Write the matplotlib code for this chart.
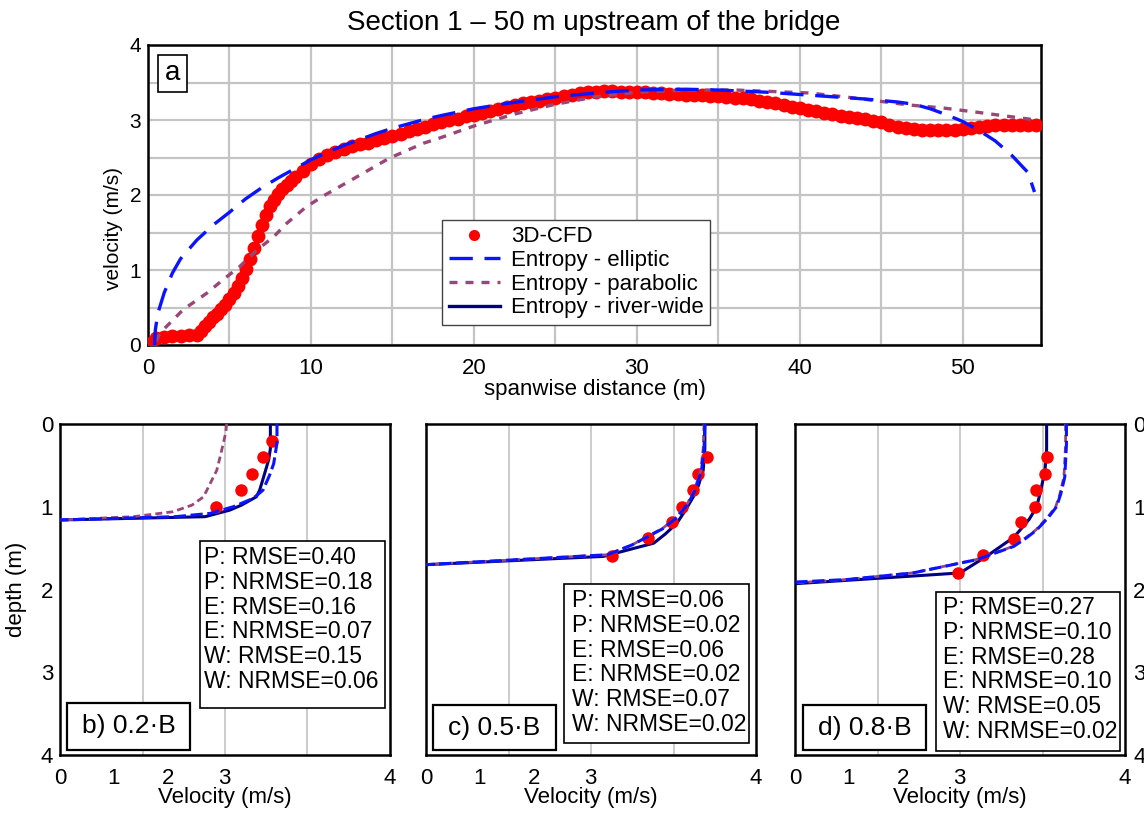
import numpy as np
import matplotlib
matplotlib.use('Agg')
import matplotlib.pyplot as plt
from matplotlib.patches import Rectangle
from matplotlib.ticker import FixedLocator, MultipleLocator

plt.rcParams['font.family'] = ['Liberation Sans', 'DejaVu Sans']

W, H = 1144, 814

# ---- panel a: velocidad a lo ancho de la seccion ----
cfd_x = [0.0, 0.2, 0.5, 1.0, 1.5, 2.0, 2.5, 3.0, 3.25, 3.5, 3.75, 4.0, 4.25, 4.5, 4.75,
         5.0, 5.25, 5.5, 5.75, 6.0, 6.25, 6.5, 6.75, 7.0, 7.25, 7.5, 7.75, 8.0, 8.25,
         8.5, 8.75, 9.0, 9.5, 10.0, 10.5, 11.0, 11.5, 12.0, 12.5, 13.0, 13.5, 14.0,
         14.5, 15.0, 15.5, 16.0, 16.5, 17.0, 17.5, 18.0, 18.5, 19.0, 19.5, 20.0, 20.5,
         21.0, 21.5, 22.0, 22.5, 23.0, 23.5, 24.0, 24.5, 25.0, 25.5, 26.0, 26.5, 27.0,
         27.5, 28.0, 28.5, 29.0, 29.5, 30.0, 30.5, 31.0, 31.5, 32.0, 32.5, 33.0, 33.5,
         34.0, 34.5, 35.0, 35.5, 36.0, 36.5, 37.0, 37.5, 38.0, 38.5, 39.0, 39.5, 40.0,
         40.5, 41.0, 41.5, 42.0, 42.5, 43.0, 43.5, 44.0, 44.5, 45.0, 45.5, 46.0, 46.5,
         47.0, 47.5, 48.0, 48.5, 49.0, 49.5, 50.0, 50.5, 51.0, 51.5, 52.0, 52.5, 53.0,
         53.5, 54.0, 54.5]
cfd_v = [0.00, 0.03, 0.09, 0.11, 0.12, 0.12, 0.13, 0.14, 0.19, 0.25, 0.31, 0.37, 0.42, 0.48, 0.54,
         0.61, 0.70, 0.79, 0.90, 1.02, 1.15, 1.30, 1.45, 1.60, 1.73, 1.85, 1.94, 2.02, 2.08,
         2.14, 2.19, 2.24, 2.32, 2.42, 2.48, 2.53, 2.57, 2.62, 2.65, 2.68, 2.70, 2.73,
         2.76, 2.79, 2.82, 2.85, 2.88, 2.91, 2.95, 2.98, 3.00, 3.02, 3.05, 3.07, 3.10,
         3.12, 3.15, 3.17, 3.20, 3.22, 3.24, 3.26, 3.28, 3.30, 3.32, 3.34, 3.36, 3.37,
         3.38, 3.39, 3.39, 3.38, 3.38, 3.37, 3.37, 3.36, 3.36, 3.35, 3.35, 3.34, 3.34,
         3.33, 3.32, 3.32, 3.31, 3.30, 3.29, 3.28, 3.26, 3.24, 3.22, 3.20, 3.18, 3.16,
         3.14, 3.12, 3.10, 3.08, 3.06, 3.04, 3.03, 3.01, 2.99, 2.97, 2.94, 2.91, 2.89,
         2.88, 2.87, 2.87, 2.87, 2.87, 2.87, 2.88, 2.89, 2.91, 2.92, 2.93, 2.93, 2.93,
         2.93, 2.94, 2.94]

ell_x = [0.40, 0.45, 0.6, 1.0, 1.5, 2.0, 3.0, 4.0, 5.0, 6.0, 7.0, 8.0, 9.0, 10.0, 11.0,
         12.0, 13.0, 14.0, 15.0, 16.0, 17.0, 18.0, 20.0, 22.0, 25.0, 28.0, 30.0, 33.0,
         35.0, 38.0, 40.0, 42.0, 44.0, 46.0, 47.0, 48.0, 49.0, 50.0, 51.0, 52.0, 53.0,
         54.0, 54.4]
ell_v = [0.00, 0.20, 0.42, 0.70, 0.96, 1.15, 1.40, 1.60, 1.77, 1.95, 2.10, 2.23, 2.35, 2.47, 2.57,
         2.66, 2.74, 2.82, 2.89, 2.95, 3.01, 3.06, 3.15, 3.22, 3.31, 3.37, 3.40, 3.41,
         3.40, 3.37, 3.34, 3.31, 3.28, 3.24, 3.21, 3.15, 3.07, 2.98, 2.86, 2.72, 2.53,
         2.30, 2.04]

par_x = [0.5, 0.74, 2.15, 3.6, 4.6, 5.6, 6.7, 7.7, 8.5, 9.7, 10.7, 12.8, 14.8, 16.9, 17.9,
         20.0, 22.5, 25.0, 27.5, 30.0, 33.0, 36.0, 40.6, 43.5, 46.7, 48.8, 51.0, 54.5]
par_v = [0.05, 0.16, 0.47, 0.69, 0.87, 1.04, 1.27, 1.44, 1.62, 1.84, 1.98, 2.24, 2.49, 2.69, 2.76,
         2.92, 3.08, 3.21, 3.31, 3.37, 3.40, 3.40, 3.36, 3.29, 3.20, 3.16, 3.10, 3.00]

riv_x = [0.4, 0.5, 3.0, 4.0, 5.0, 6.0, 7.0, 8.0, 9.0, 10.0, 12.0, 15.0, 18.0, 20.0, 25.0,
         28.0, 30.0, 35.0, 40.0, 45.0, 47.5, 50.0, 52.0, 54.6]
riv_v = [0.0, 0.10, 0.15, 0.35, 0.60, 1.00, 1.55, 2.00, 2.25, 2.42, 2.62, 2.80, 2.98, 3.07, 3.30,
         3.39, 3.37, 3.32, 3.16, 2.97, 2.87, 2.88, 2.93, 2.94]

# ---- perfiles verticales (velocidad, profundidad) ----
b_cfd_v = [2.57, 2.46, 2.33, 2.19, 1.89]
b_cfd_d = [0.2, 0.4, 0.6, 0.8, 1.0]
b_riv_v = [2.55, 2.55, 2.53, 2.48, 2.42, 2.38, 2.20, 2.06, 1.76, 0.0]
b_riv_d = [0.0, 0.30, 0.43, 0.60, 0.80, 0.88, 0.98, 1.04, 1.12, 1.16]
b_ell_v = [2.63, 2.63, 2.59, 2.54, 2.46, 2.34, 2.10, 1.82, 1.40, 0.0]
b_ell_d = [0.0, 0.23, 0.48, 0.62, 0.80, 0.90, 1.00, 1.08, 1.12, 1.16]
b_par_v = [2.02, 2.01, 1.98, 1.94, 1.90, 1.82, 1.74, 1.60, 1.37, 0.89, 0.0]
b_par_d = [0.0, 0.10, 0.23, 0.40, 0.56, 0.72, 0.88, 0.98, 1.06, 1.12, 1.16]

c_cfd_v = [3.40, 3.30, 3.24, 3.10, 2.98, 2.69, 2.25]
c_cfd_d = [0.4, 0.6, 0.8, 1.0, 1.19, 1.38, 1.60]
c_riv_v = [3.38, 3.38, 3.36, 3.30, 3.24, 3.14, 3.04, 2.90, 2.76, 2.15, 0.0]
c_riv_d = [0.0, 0.30, 0.56, 0.75, 0.88, 1.05, 1.20, 1.33, 1.44, 1.60, 1.70]
c_ell_v = [3.38, 3.37, 3.34, 3.27, 3.18, 3.04, 2.88, 2.69, 2.50, 2.20, 0.0]
c_ell_d = [0.0, 0.30, 0.56, 0.78, 0.96, 1.13, 1.26, 1.36, 1.46, 1.58, 1.70]
c_par_v = [3.37, 3.36, 3.33, 3.26, 3.17, 3.03, 2.87, 2.68, 2.50, 2.20, 0.0]
c_par_d = [0.0, 0.30, 0.56, 0.78, 0.96, 1.13, 1.26, 1.36, 1.46, 1.58, 1.70]

d_cfd_v = [3.05, 3.03, 2.92, 2.91, 2.74, 2.65, 2.28, 1.97]
d_cfd_d = [0.4, 0.6, 0.8, 1.0, 1.19, 1.39, 1.58, 1.80]
d_riv_v = [3.05, 3.05, 3.03, 2.98, 2.93, 2.84, 2.73, 2.65, 2.32, 2.0, 0.0]
d_riv_d = [0.0, 0.30, 0.56, 0.80, 1.00, 1.15, 1.28, 1.37, 1.60, 1.80, 1.93]
d_ell_v = [3.29, 3.29, 3.27, 3.22, 3.17, 3.07, 2.93, 2.80, 2.65, 2.20, 1.43, 0.63, 0.0]
d_ell_d = [0.0, 0.25, 0.64, 0.85, 1.00, 1.13, 1.28, 1.38, 1.48, 1.64, 1.80, 1.88, 1.91]
d_par_v = [3.28, 3.28, 3.26, 3.21, 3.16, 3.06, 2.92, 2.79, 2.64, 2.19, 1.42, 0.62, 0.0]
d_par_d = [0.0, 0.25, 0.64, 0.85, 1.00, 1.13, 1.28, 1.38, 1.48, 1.64, 1.80, 1.88, 1.92]

stats_b = ['P: RMSE=0.40', 'P: NRMSE=0.18', 'E: RMSE=0.16', 'E: NRMSE=0.07', 'W: RMSE=0.15', 'W: NRMSE=0.06']
stats_c = ['P: RMSE=0.06', 'P: NRMSE=0.02', 'E: RMSE=0.06', 'E: NRMSE=0.02', 'W: RMSE=0.07', 'W: NRMSE=0.02']
stats_d = ['P: RMSE=0.27', 'P: NRMSE=0.10', 'E: RMSE=0.28', 'E: NRMSE=0.10', 'W: RMSE=0.05', 'W: NRMSE=0.02']

vel_tick_pos = [0, 0.65, 1.31, 1.99, 4]
vel_tick_lab = ['0', '1', '2', '3', '4']

c_cfd = '#ff0000'
c_ell = '#0a14ff'
c_par = '#9a4678'
c_riv = '#000080'
c_grid = '#c4c4c4'


def rect(l, t, r, b):
    return [l / W, 1 - b / H, (r - l) / W, (b - t) / H]


def caja(fig, l, t, r, b, lw=1.2, ec='black'):
    fig.add_artist(Rectangle((l / W, 1 - b / H), (r - l) / W, (b - t) / H,
                             transform=fig.transFigure, fc='white', ec=ec, lw=lw, zorder=5))


fig = plt.figure(figsize=(W / 100, H / 100), dpi=100)

# ---------------- panel a ----------------
ax = fig.add_axes(rect(148, 45, 1041, 345))
ax.plot(riv_x, riv_v, color=c_riv, lw=2.4, label='Entropy - river-wide', zorder=2)
ax.plot(cfd_x, cfd_v, 'o', color=c_cfd, ms=10, mec='none', label='3D-CFD', zorder=3)
ax.plot(par_x, par_v, color=c_par, lw=2.4, dashes=(2.4, 2.4), label='Entropy - parabolic', zorder=4)
ax.plot(ell_x, ell_v, color=c_ell, lw=2.4, dashes=(7, 3.5), label='Entropy - elliptic', zorder=5)
ax.set_xlim(0, 54.8)
ax.set_ylim(0, 4)
ax.xaxis.set_major_locator(MultipleLocator(10))
ax.xaxis.set_minor_locator(MultipleLocator(5))
ax.yaxis.set_major_locator(MultipleLocator(1))
ax.yaxis.set_minor_locator(MultipleLocator(0.5))
ax.grid(True, which='both', color=c_grid, lw=1.6)
ax.set_axisbelow(True)
ax.tick_params(which='both', length=0)
ax.tick_params(axis='x', labelsize=16, pad=9)
ax.tick_params(axis='y', labelsize=15, pad=5)
for s in ax.spines.values():
    s.set_linewidth(1.8)
ax.set_xlabel('spanwise distance (m)', fontsize=16)
ax.xaxis.set_label_coords(0.5, -0.115)
ax.set_ylabel('velocity (m/s)', fontsize=15)
ax.yaxis.set_label_coords(-0.028, 0.39)
h, l = ax.get_legend_handles_labels()
orden = [1, 3, 2, 0]
leg = ax.legend([h[i] for i in orden], [l[i] for i in orden], loc='lower left',
                bbox_to_anchor=((442 - 148) / 893, (345 - 325) / 300), borderaxespad=0,
                fontsize=16, handlelength=2.3, handletextpad=0.5, labelspacing=0.12,
                borderpad=0.3, fancybox=False, framealpha=1, edgecolor='#444444',
                numpoints=1, markerscale=0.8)
leg.get_frame().set_linewidth(1.0)
caja(fig, 158, 55, 187, 92)
fig.text(172.5 / W, 1 - 73.5 / H, 'a', fontsize=20, ha='center', va='center', zorder=6)

fig.text(594 / W, 1 - 30 / H, 'Section 1 \u2013 50 m upstream of the bridge', fontsize=20,
         ha='center', va='baseline')

# ---------------- perfiles b, c, d ----------------
perfiles = [
    (60, b_cfd_v, b_cfd_d, b_riv_v, b_riv_d, b_ell_v, b_ell_d, b_par_v, b_par_d, stats_b,
     'b) 0.2\u00b7B', (200, 541, 385, 708), (204, 546), (67, 703, 190, 750)),
    (426, c_cfd_v, c_cfd_d, c_riv_v, c_riv_d, c_ell_v, c_ell_d, c_par_v, c_par_d, stats_c,
     'c) 0.5\u00b7B', (564, 584, 749, 743), (572, 589), (433, 705, 556, 750)),
    (795, d_cfd_v, d_cfd_d, d_riv_v, d_riv_d, d_ell_v, d_ell_d, d_par_v, d_par_d, stats_d,
     'd) 0.8\u00b7B', (936, 592, 1120, 751), (943, 596), (803, 705, 926, 750)),
]

for k, (x0, cv, cd, rv, rd, ev, ed, pv, pd_, st, nombre, sbox, stxt, nbox) in enumerate(perfiles):
    ax = fig.add_axes(rect(x0, 424, x0 + 330, 755))
    ax.plot(rv, rd, color=c_riv, lw=2.2, zorder=3)
    ax.plot(cv, cd, 'o', color=c_cfd, ms=9, mec='none', zorder=4)
    ax.plot(pv, pd_, color=c_par, lw=2.0, dashes=(2.5, 1.5), zorder=5)
    ax.plot(ev, ed, color=c_ell, lw=2.2, dashes=(4, 1.5), zorder=6)
    ax.set_xlim(0, 4)
    ax.set_ylim(4, 0)
    ax.xaxis.set_major_locator(FixedLocator(vel_tick_pos))
    ax.set_xticklabels(vel_tick_lab)
    ax.xaxis.set_minor_locator(FixedLocator([1, 2, 3]))
    ax.yaxis.set_major_locator(FixedLocator([0, 1, 2, 3, 4]))
    ax.yaxis.set_minor_locator(FixedLocator([1, 2, 3]))
    ax.grid(False)
    ax.grid(True, which='minor', color=c_grid, lw=1.2)
    ax.set_axisbelow(True)
    ax.tick_params(which='both', length=0, labelsize=16)
    ax.tick_params(axis='x', pad=9)
    for s in ax.spines.values():
        s.set_linewidth(1.8)
    ax.set_xlabel('Velocity (m/s)', fontsize=16)
    ax.xaxis.set_label_coords(0.5, -0.098)
    if k == 0:
        ax.set_ylabel('depth (m)', fontsize=16)
        ax.yaxis.set_label_coords(-0.1, 0.5)
        ax.tick_params(axis='y', pad=5)
    elif k == 1:
        ax.tick_params(axis='y', labelleft=False)
    else:
        ax.tick_params(axis='y', labelleft=False, labelright=True, pad=6)

    caja(fig, *sbox)
    fig.text(stxt[0] / W, 1 - stxt[1] / H, '\n'.join(st), fontsize=16.5, linespacing=1.1,
             ha='left', va='top', zorder=6)
    caja(fig, *nbox, lw=1.6)
    fig.text((nbox[0] + nbox[2]) / 2 / W, 1 - (nbox[1] + nbox[3]) / 2 / H, nombre,
             fontsize=19, ha='center', va='center', zorder=6)

fig.savefig('out.png', dpi=100, facecolor='white')
